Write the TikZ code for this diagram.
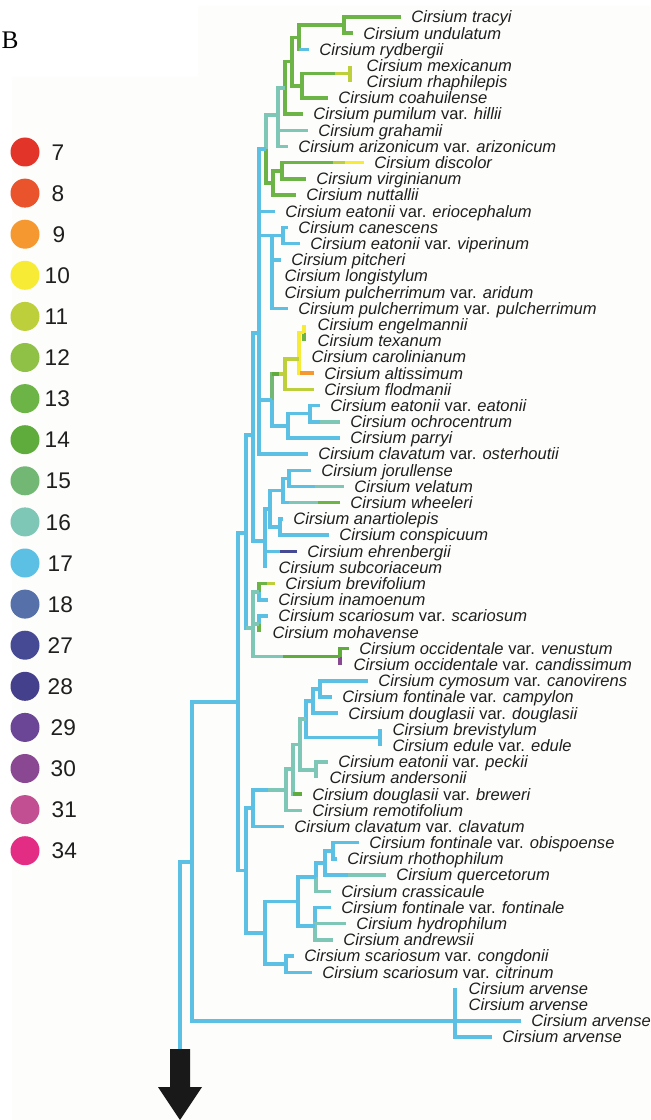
\documentclass[tikz,border=0pt]{standalone}
\usepackage{fontspec}
\setmainfont{Liberation Sans}
\newfontfamily\letterfont{Liberation Serif}

\definecolor{c7}{HTML}{E3342A}
\definecolor{c8}{HTML}{E9542C}
\definecolor{c9}{HTML}{F4982F}
\definecolor{c10}{HTML}{F8EB35}
\definecolor{c11}{HTML}{BDD03B}
\definecolor{c12}{HTML}{8FC147}
\definecolor{c13}{HTML}{6DB446}
\definecolor{c14}{HTML}{5FAB3C}
\definecolor{c15}{HTML}{72B774}
\definecolor{c16}{HTML}{7EC6B6}
\definecolor{c17}{HTML}{5BC0E4}
\definecolor{c18}{HTML}{5671AA}
\definecolor{c27}{HTML}{464A94}
\definecolor{c28}{HTML}{45408C}
\definecolor{c29}{HTML}{6B4696}
\definecolor{c30}{HTML}{8B4892}
\definecolor{c31}{HTML}{C34F93}
\definecolor{c34}{HTML}{E32D84}
\definecolor{panel}{RGB}{253,253,251}

\newcommand{\subvar}{\textup{var.}}

\tikzset{
leaf/.style={anchor=west, inner xsep=6.5pt, inner ysep=0pt, text height=8.8pt, text depth=0pt, font=\fontsize{12.4}{14}\selectfont\itshape, text=black!88}, % species name, west anchor = branch tip
gap/.style={inner xsep=#1}, % leaves sitting right on a vertical line
dot/.style={circle, inner sep=0pt, minimum size=21.75pt},
num/.style={anchor=west, inner sep=0pt, text height=12.2pt, text depth=0pt, font=\fontsize{17}{17}\selectfont, text=black!88},
}

\begin{document}
\begin{tikzpicture}[x=0.75pt, y=-0.75pt, line width=2.6pt]
\useasboundingbox (0,0) rectangle (650,1120);
\fill[white] (0,0) rectangle (650,1120);
\fill[panel] (12,77) -- (198,77) -- (198,6) -- (650,6) -- (650,1120) -- (12,1120) -- cycle;

% legend
\node[font=\letterfont\fontsize{19}{19}\selectfont, anchor=west, inner sep=0pt] (B) at (0,40) {B};

\node[dot, fill=c7] (d7) at (25,152) {};
\node[num] (l7) at (50,152) {7};
\node[dot, fill=c8] (d8) at (25,193.1) {};
\node[num] (l8) at (50,193.1) {8};
\node[dot, fill=c9] (d9) at (25,234.2) {};
\node[num] (l9) at (51,234.2) {9};
\node[dot, fill=c10] (d10) at (25,275.3) {};
\node[num] (l10) at (43,275.3) {10};
\node[dot, fill=c11] (d11) at (25,316.4) {};
\node[num] (l11) at (43,316.4) {11};
\node[dot, fill=c12] (d12) at (25,357.5) {};
\node[num] (l12) at (43,357.5) {12};
\node[dot, fill=c13] (d13) at (25,398.6) {};
\node[num] (l13) at (43,398.6) {13};
\node[dot, fill=c14] (d14) at (25,439.7) {};
\node[num] (l14) at (43,439.7) {14};
\node[dot, fill=c15] (d15) at (25,480.8) {};
\node[num] (l15) at (44,480.8) {15};
\node[dot, fill=c16] (d16) at (25,521.9) {};
\node[num] (l16) at (44,521.9) {16};
\node[dot, fill=c17] (d17) at (25,563) {};
\node[num] (l17) at (46,563) {17};
\node[dot, fill=c18] (d18) at (25,604.1) {};
\node[num] (l18) at (46,604.1) {18};
\node[dot, fill=c27] (d27) at (25,645.2) {};
\node[num] (l27) at (46,645.2) {27};
\node[dot, fill=c28] (d28) at (25,686.3) {};
\node[num] (l28) at (46,686.3) {28};
\node[dot, fill=c29] (d29) at (25,727.4) {};
\node[num] (l29) at (49,727.4) {29};
\node[dot, fill=c30] (d30) at (25,768.5) {};
\node[num] (l30) at (49,768.5) {30};
\node[dot, fill=c31] (d31) at (25,809.6) {};
\node[num] (l31) at (50,809.6) {31};
\node[dot, fill=c34] (d34) at (25,850.7) {};
\node[num] (l34) at (50,850.7) {34};

% leaves
\node[leaf] (tracyi) at (401,17) {Cirsium tracyi};
\node[leaf] (undulatum) at (353,33.2) {Cirsium undulatum};
\node[leaf] (rydbergii) at (309,49.4) {Cirsium rydbergii};
\node[leaf, gap=11.25pt] (mexicanum) at (350,65.6) {Cirsium mexicanum};
\node[leaf, gap=11.25pt] (rhaphilepis) at (350,81.8) {Cirsium rhaphilepis};
\node[leaf] (coahuilense) at (328,97.9) {Cirsium coahuilense};
\node[leaf] (pumilum) at (303,114.1) {Cirsium pumilum \subvar{} hillii};
\node[leaf] (grahamii) at (308,130.3) {Cirsium grahamii};
\node[leaf] (arizonicum) at (288,146.5) {Cirsium arizonicum \subvar{} arizonicum};
\node[leaf] (discolor) at (364,162.7) {Cirsium discolor};
\node[leaf] (virginianum) at (306,178.9) {Cirsium virginianum};
\node[leaf] (nuttallii) at (296,195.1) {Cirsium nuttallii};
\node[leaf] (eriocephalum) at (275,211.3) {Cirsium eatonii \subvar{} eriocephalum};
\node[leaf] (canescens) at (288,227.5) {Cirsium canescens};
\node[leaf] (viperinum) at (300,243.7) {Cirsium eatonii \subvar{} viperinum};
\node[leaf] (pitcheri) at (281,259.9) {Cirsium pitcheri};
\node[leaf, gap=8.25pt] (longistylum) at (272,276.0) {Cirsium longistylum};
\node[leaf, gap=8.25pt] (aridum) at (272,292.2) {Cirsium pulcherrimum \subvar{} aridum};
\node[leaf] (pulcherrimum) at (288,308.4) {Cirsium pulcherrimum \subvar{} pulcherrimum};
\node[leaf, gap=9pt] (engelmannii) at (304,324.6) {Cirsium engelmannii};
\node[leaf, gap=9pt] (texanum) at (304,340.8) {Cirsium texanum};
\node[leaf, gap=8.25pt] (carolinianum) at (299,357.0) {Cirsium carolinianum};
\node[leaf] (altissimum) at (314,373.2) {Cirsium altissimum};
\node[leaf] (flodmanii) at (314,389.4) {Cirsium flodmanii};
\node[leaf] (eatonii) at (320,405.6) {Cirsium eatonii \subvar{} eatonii};
\node[leaf] (ochrocentrum) at (340,421.8) {Cirsium ochrocentrum};
\node[leaf] (parryi) at (340,438.0) {Cirsium parryi};
\node[leaf] (osterhoutii) at (308,454.1) {Cirsium clavatum \subvar{} osterhoutii};
\node[leaf] (jorullense) at (311,470.3) {Cirsium jorullense};
\node[leaf] (velatum) at (344,486.5) {Cirsium velatum};
\node[leaf] (wheeleri) at (340,502.7) {Cirsium wheeleri};
\node[leaf] (anartiolepis) at (283,518.9) {Cirsium anartiolepis};
\node[leaf] (conspicuum) at (329,535.1) {Cirsium conspicuum};
\node[leaf] (ehrenbergii) at (297,551.3) {Cirsium ehrenbergii};
\node[leaf, gap=9pt] (subcoriaceum) at (265,567.5) {Cirsium subcoriaceum};
\node[leaf] (brevifolium) at (275,583.7) {Cirsium brevifolium};
\node[leaf] (inamoenum) at (268,599.9) {Cirsium inamoenum};
\node[leaf] (scariosum) at (268,616.1) {Cirsium scariosum \subvar{} scariosum};
\node[leaf, gap=9pt] (mohavense) at (259,632.2) {Cirsium mohavense};
\node[leaf] (venustum) at (349,648.4) {Cirsium occidentale \subvar{} venustum};
\node[leaf, gap=9pt] (candissimum) at (340,664.6) {Cirsium occidentale \subvar{} candissimum};
\node[leaf] (canovirens) at (368,680.8) {Cirsium cymosum \subvar{} canovirens};
\node[leaf] (campylon) at (332,697.0) {Cirsium fontinale \subvar{} campylon};
\node[leaf] (douglasii) at (338,713.2) {Cirsium douglasii \subvar{} douglasii};
\node[leaf, gap=8.25pt] (brevistylum) at (380,729.4) {Cirsium brevistylum};
\node[leaf, gap=8.25pt] (edule) at (380,745.6) {Cirsium edule \subvar{} edule};
\node[leaf] (peckii) at (328,761.8) {Cirsium eatonii \subvar{} peckii};
\node[leaf, gap=9pt] (andersonii) at (316,778.0) {Cirsium andersonii};
\node[leaf] (breweri) at (302,794.2) {Cirsium douglasii \subvar{} breweri};
\node[leaf] (remotifolium) at (302,810.3) {Cirsium remotifolium};
\node[leaf] (clavatum) at (284,826.5) {Cirsium clavatum \subvar{} clavatum};
\node[leaf] (obispoense) at (359,842.7) {Cirsium fontinale \subvar{} obispoense};
\node[leaf] (rhothophilum) at (337,858.9) {Cirsium rhothophilum};
\node[leaf] (quercetorum) at (386,875.1) {Cirsium quercetorum};
\node[leaf] (crassicaule) at (331,891.3) {Cirsium crassicaule};
\node[leaf] (fontinale) at (331,907.5) {Cirsium fontinale \subvar{} fontinale};
\node[leaf] (hydrophilum) at (346,923.7) {Cirsium hydrophilum};
\node[leaf] (andrewsii) at (333,939.9) {Cirsium andrewsii};
\node[leaf] (congdonii) at (294,956.1) {Cirsium scariosum \subvar{} congdonii};
\node[leaf] (citrinum) at (312,972.3) {Cirsium scariosum \subvar{} citrinum};
\node[leaf, gap=9pt] (arvA) at (455,988.4) {Cirsium arvense};
\node[leaf, gap=9pt] (arvB) at (455,1004.6) {Cirsium arvense};
\node[leaf] (arvC) at (521,1020.8) {Cirsium arvense};
\node[leaf] (arvD) at (492,1037.0) {Cirsium arvense};

% inner nodes
\coordinate (nA) at (344,25.1);
\coordinate (nB) at (299,37.3);
\coordinate (nC) at (350,73.7);
\coordinate (nD) at (302,85.8);
\coordinate (nE) at (292,61.5);
\coordinate (nF) at (285,87.8);
\coordinate (nG) at (278,115);
\coordinate (nH) at (282,170.8);
\coordinate (nI) at (273,183);
\coordinate (nJ) at (266,149);
\coordinate (nK) at (259,333);
\coordinate (nL1) at (283,235.6);
\coordinate (nL) at (272,235.6);
\coordinate (nM1) at (304,332.7);
\coordinate (nM2) at (299,359);
\coordinate (nM3) at (285,374);
\coordinate (nN1) at (310,413.7);
\coordinate (nN2) at (288,425.8);
\coordinate (nN) at (272,400);
\coordinate (nP1) at (289,478.4);
\coordinate (nP2) at (283,490.5);
\coordinate (nP3) at (280,527);
\coordinate (nP4) at (270,509);
\coordinate (nP) at (265,541);
\coordinate (nS) at (253,435);
\coordinate (nR1) at (259,591.8);
\coordinate (nR2) at (259,624.2);
\coordinate (nR3) at (340,656.5);
\coordinate (nR) at (253,628);
\coordinate (nW) at (246,533);
\coordinate (nT1) at (320,689);
\coordinate (nT2) at (313,701);
\coordinate (nT3) at (380,737.5);
\coordinate (nT4) at (306,719);
\coordinate (nT5) at (316,770);
\coordinate (nT6) at (300,744.5);
\coordinate (nT7) at (293,769);
\coordinate (nT8) at (286,790);
\coordinate (nT) at (253,808);
\coordinate (nU1) at (333,851);
\coordinate (nU2) at (325,863);
\coordinate (nU3) at (316,877);
\coordinate (nU4) at (315,926);
\coordinate (nU5) at (298,901.5);
\coordinate (nU6) at (286,964.2);
\coordinate (nU) at (265,933);
\coordinate (nX) at (246,870.5);
\coordinate (nY) at (238,702);
\coordinate (nV) at (455,1020.8);
\coordinate (nZ) at (192,862);
\coordinate (root) at (180,1049);

% branches
\draw[c13] (nA) |- (tracyi.west);
\draw[c13] (nA) |- (undulatum.west);
\draw[c13] (nB) |- (nA);
\draw[c13] (nB) |- (rydbergii.west);
\draw[c17] (rydbergii.west) -- ++(-10,0);
\draw[c11] (nC) |- (mexicanum.west);
\draw[c11] (nC) |- (rhaphilepis.west);
\draw[c13] (nD) |- (nC);
\draw[c11] (nC) -- ++(-15,0);
\draw[c13] (nD) |- (coahuilense.west);
\draw[c13] (nE) |- (nB);
\draw[c13] (nE) |- (nD);
\draw[c13] (nF) |- (nE);
\draw[c13] (nF) |- (pumilum.west);
\draw[c16] (nG) |- (nF);
\draw[c16] (nG) |- (grahamii.west);
\draw[c16] (nG) |- (arizonicum.west);
\draw[c13] (nH) |- (discolor.west);
\draw[c11] (discolor.west) -- ++(-31,0);
\draw[c10] (discolor.west) -- ++(-19,0);
\draw[c13] (nH) |- (virginianum.west);
\draw[c13] (nI) |- (nH);
\draw[c13] (nI) |- (nuttallii.west);
\draw[c16] (nJ) |- (nG);
\draw[c13] (nJ) |- (nI);

\draw[c17] (nK) |- (nJ);
\draw[c17] (nK) |- (eriocephalum.west);
\draw[c17] (nK) |- (nL);
\draw[c17] (nL) |- (nL1);
\draw[c17] (nL1) |- (canescens.west);
\draw[c17] (nL1) |- (viperinum.west);
\draw[c17] (nL) |- (pitcheri.west);
\draw[c17] (nL) |- (longistylum.west);
\draw[c17] (nL) |- (aridum.west);
\draw[c17] (nL) |- (pulcherrimum.west);
\draw[c10] (nM1) |- (engelmannii.west);
\draw[c13] (nM1) |- (texanum.west);
\draw[c10] (nM2) |- (nM1);
\draw[c10] (nM2) |- (carolinianum.west);
\draw[c10] (nM2) |- (altissimum.west);
\draw[c9] (altissimum.west) -- ++(-14,0);
\draw[c11] (nM3) |- (nM2);
\draw[c11] (nM3) |- (flodmanii.west);
\draw[c15] (nN) |- (nM3);
\draw[c14] (nM3) -- ++(-13,0);
\draw[c11] (nM3) -- ++(-6,0);
\draw[c17] (nN1) |- (eatonii.west);
\draw[c17] (nN1) |- (ochrocentrum.west);
\draw[c16] (ochrocentrum.west) -- ++(-20,0);
\draw[c17] (nN2) |- (nN1);
\draw[c17] (nN2) |- (parryi.west);
\draw[c17] (nN) |- (nN2);
\draw[c17] (nK) |- (nN);
\draw[c17] (nK) |- (osterhoutii.west);

\draw[c17] (nP1) |- (jorullense.west);
\draw[c17] (nP1) |- (velatum.west);
\draw[c16] (velatum.west) -- ++(-29,0);
\draw[c17] (nP2) |- (nP1);
\draw[c17] (nP2) |- (wheeleri.west);
\draw[c16] (wheeleri.west) -- ++(-51,0);
\draw[c13] (wheeleri.west) -- ++(-22,0);
\draw[c17] (nP3) |- (anartiolepis.west);
\draw[c17] (nP3) |- (conspicuum.west);
\draw[c17] (nP4) |- (nP2);
\draw[c17] (nP4) |- (nP3);
\draw[c17] (nP) |- (nP4);
\draw[c17] (nP) |- (ehrenbergii.west);
\draw[c27] (ehrenbergii.west) -- ++(-17,0);
\draw[c17] (nP) |- (subcoriaceum.west);
\draw[c17] (nS) |- (nK);
\draw[c17] (nS) |- (nP);

\draw[c13] (nR1) |- (brevifolium.west);
\draw[c11] (brevifolium.west) -- ++(-8,0);
\draw[c17] (nR1) |- (inamoenum.west);
\draw[c17] (nR2) |- (scariosum.west);
\draw[c13] (nR2) |- (mohavense.west);
\draw[c14] (nR3) |- (venustum.west);
\draw[c30] (nR3) |- (candissimum.west);
\draw[c16] (nR) |- (nR1);
\draw[c16] (nR) |- (nR2);
\draw[c16] (nR) |- (nR3);
\draw[c14] (nR3) -- ++(-57,0);
\draw[c17] (nW) |- (nS);
\draw[c17] (nW) |- (nR);
\draw[c16] (nR) -- ++(-7,0);

\draw[c17] (nT1) |- (canovirens.west);
\draw[c17] (nT1) |- (campylon.west);
\draw[c17] (nT2) |- (nT1);
\draw[c17] (nT2) |- (douglasii.west);
\draw[c17] (nT3) |- (brevistylum.west);
\draw[c17] (nT3) |- (edule.west);
\draw[c17] (nT4) |- (nT2);
\draw[c17] (nT4) |- (nT3);
\draw[c16] (nT5) |- (peckii.west);
\draw[c16] (nT5) |- (andersonii.west);
\draw[c16] (nT6) |- (nT4);
\draw[c16] (nT6) |- (nT5);
\draw[c16] (nT7) |- (nT6);
\draw[c16] (nT7) |- (breweri.west);
\draw[c14] (breweri.west) -- ++(-9,0);
\draw[c16] (nT8) |- (nT7);
\draw[c16] (nT8) |- (remotifolium.west);
\draw[c17] (nT) |- (nT8);
\draw[c16] (nT8) -- ++(-18,0);
\draw[c17] (nT) |- (clavatum.west);

\draw[c17] (nU1) |- (obispoense.west);
\draw[c17] (nU1) |- (rhothophilum.west);
\draw[c17] (nU2) |- (nU1);
\draw[c17] (nU2) |- (quercetorum.west);
\draw[c16] (quercetorum.west) -- ++(-38,0);
\draw[c17] (nU3) |- (nU2);
\draw[c16] (nU3) |- (crassicaule.west);
\draw[c17] (nU4) |- (fontinale.west);
\draw[c16] (nU4) |- (hydrophilum.west);
\draw[c16] (nU4) |- (andrewsii.west);
\draw[c17] (nU5) |- (nU3);
\draw[c17] (nU5) |- (nU4);
\draw[c17] (nU6) |- (congdonii.west);
\draw[c17] (nU6) |- (citrinum.west);
\draw[c17] (nU) |- (nU5);
\draw[c17] (nU) |- (nU6);
\draw[c17] (nX) |- (nT);
\draw[c17] (nX) |- (nU);
\draw[c17] (nY) |- (nW);
\draw[c17] (nY) |- (nX);

\draw[c17] (nV) |- (arvA.west);
\draw[c17] (nV) |- (arvB.west);
\draw[c17] (nV) |- (arvC.west);
\draw[c17] (nV) |- (arvD.west);
\draw[c17] (nZ) |- (nY);
\draw[c17] (nZ) |- (nV);
\draw[c17] (root) |- (nZ);

% block arrow under the root
\fill[black!90] (170,1049) -- (190,1049) -- (190,1087) -- (202,1087) -- (180,1120) -- (158,1087) -- (170,1087) -- cycle;

\end{tikzpicture}
\end{document}
